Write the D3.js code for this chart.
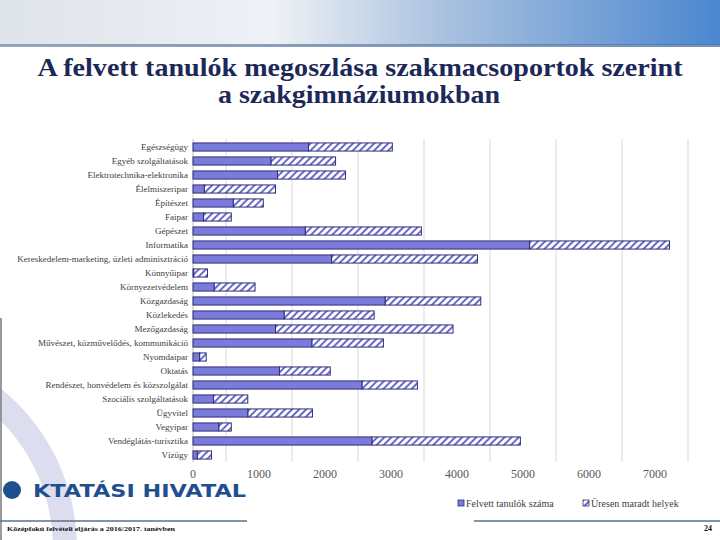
<!DOCTYPE html>
<html lang="hu">
<head>
<meta charset="utf-8">
<title>A felvett tanulók megoszlása szakmacsoportok szerint</title>
<script src="https://d3js.org/d3.v7.min.js"></script>
<style>
body {
	margin: 0;
	background-color: white;
}
svg {
	display: block;
}
.serif {
	font-family: "Liberation Serif", "Times New Roman", Times, serif;
}
</style>
</head>
<body>
<script>

var width = 720;
var height = 540;

var categories = ["Egészségügy", "Egyéb szolgáltatások", "Elektrotechnika-elektronika", "Élelmiszeripar",
	"Építészet", "Faipar", "Gépészet", "Informatika", "Kereskedelem-marketing, üzleti adminisztráció",
	"Könnyűipar", "Környezetvédelem", "Közgazdaság", "Közlekedés", "Mezőgazdaság",
	"Művészet, közművelődés, kommunikáció", "Nyomdaipar", "Oktatás",
	"Rendészet, honvédelem és közszolgálat", "Szociális szolgáltatások", "Ügyvitel", "Vegyipar",
	"Vendéglátás-turisztika", "Vízügy"];

// Felvett tanulók száma
var felvett = [1750, 1180, 1280, 170, 610, 160, 1700, 5100, 2100, 10, 320, 2910, 1380, 1250,
	1800, 100, 1310, 2560, 310, 830, 390, 2710, 65];
// Üresen maradt helyek
var ures = [1270, 980, 1030, 1080, 455, 420, 1760, 2120, 2210, 210, 620, 1450, 1365, 2690,
	1085, 100, 770, 840, 520, 980, 190, 2250, 215];

var tickValues = [0, 1000, 2000, 3000, 4000, 5000, 6000, 7000];
var gridValues = [500, 1500, 2500, 3500, 4500, 5500, 6500, 7500];

var seriesNames = ["Felvett tanulók száma", "Üresen maradt helyek"];

var titleLines = ["A felvett tanulók megoszlása szakmacsoportok szerint", "a szakgimnáziumokban"];
var footerText = "Középfokú felvételi eljárás a 2016/2017. tanévben";
var pageNumber = "24";

var barFill = "#7b7bdc";
var barStroke = "#2e2e78";

var svg = d3.select("body").append("svg").attr("width", width).attr("height", height);
var defs = svg.append("defs");

// header band
var hg = defs.append("linearGradient").attr("id", "headGrad");
hg.append("stop").attr("offset", "0").attr("stop-color", "#dfe4ea");
hg.append("stop").attr("offset", "0.38").attr("stop-color", "#eef1f5");
hg.append("stop").attr("offset", "0.62").attr("stop-color", "#a9c1df");
hg.append("stop").attr("offset", "1").attr("stop-color", "#4b87cf");

var lg = defs.append("linearGradient").attr("id", "lineGrad");
lg.append("stop").attr("offset", "0").attr("stop-color", "#7d8fa8");
lg.append("stop").attr("offset", "1").attr("stop-color", "#4f78aa");

svg.append("rect").attr("x", 0).attr("y", 0).attr("width", width).attr("height", 45)
	.attr("fill", "url(#headGrad)");
svg.append("rect").attr("x", 0).attr("y", 44).attr("width", width).attr("height", 3)
	.attr("fill", "url(#lineGrad)").attr("opacity", 0.8);

// hatch pattern
var pat = defs.append("pattern").attr("id", "hatch")
	.attr("patternUnits", "userSpaceOnUse").attr("width", 5).attr("height", 5)
	.attr("patternTransform", "rotate(45)");
pat.append("rect").attr("width", 5).attr("height", 5).attr("fill", "white");
pat.append("rect").attr("x", 0).attr("y", 0).attr("width", 2).attr("height", 5).attr("fill", "#6a6acb");

// decorative ring + left line
svg.append("circle").attr("cx", -128).attr("cy", 548).attr("r", 193)
	.attr("fill", "none").attr("stroke", "#cdd0e8").attr("stroke-width", 24).attr("opacity", 0.7);
svg.append("line").attr("x1", 1).attr("x2", 1).attr("y1", 318).attr("y2", 540)
	.attr("stroke", "#7a7a7a").attr("stroke-width", 1.5);

// title
svg.append("text").attr("class", "serif").attr("x", 360).attr("y", 76).attr("text-anchor", "middle")
	.attr("font-weight", "bold").attr("font-size", 26)
	.attr("fill", "#1c2858")
	.attr("textLength", 645).attr("lengthAdjust", "spacingAndGlyphs")
	.text(titleLines[0]);
svg.append("text").attr("class", "serif").attr("x", 359).attr("y", 103).attr("text-anchor", "middle")
	.attr("font-weight", "bold").attr("font-size", 26)
	.attr("fill", "#1c2858")
	.attr("textLength", 282).attr("lengthAdjust", "spacingAndGlyphs")
	.text(titleLines[1]);

// scales
var x = d3.scaleLinear().domain([0, 7500]).range([193, 688]);
var y = d3.scaleBand().domain(categories).range([140, 462]).paddingInner(0.42).paddingOuter(0.21);

// gridlines
svg.append("g").selectAll("line").data(gridValues).enter().append("line")
	.attr("x1", function(d) { return x(d); })
	.attr("x2", function(d) { return x(d); })
	.attr("y1", 139).attr("y2", 462)
	.attr("stroke", "#d9d9d9").attr("stroke-width", 1);
svg.append("line").attr("x1", x(0)).attr("x2", x(0)).attr("y1", 139).attr("y2", 462)
	.attr("stroke", "#bfbfbf").attr("stroke-width", 1);

// tick labels
svg.append("g").attr("class", "serif").selectAll("text").data(tickValues).enter().append("text")
	.attr("x", function(d) { return x(d); })
	.attr("y", 478)
	.attr("text-anchor", "middle")
	.attr("font-size", 12).attr("fill", "#595959")
	.text(function(d) { return d; });

// category labels
svg.append("g").attr("class", "serif").selectAll("text").data(categories).enter().append("text")
	.attr("x", 188)
	.attr("y", function(d) { return y(d) + y.bandwidth() / 2 + 3; })
	.attr("text-anchor", "end")
	.attr("font-size", 9).attr("fill", "#404040")
	.text(function(d) { return d; });

// bars
var rows = categories.map(function(c, i) { return { cat: c, a: felvett[i], b: ures[i] }; });

svg.append("g").selectAll("rect").data(rows).enter().append("rect")
	.attr("x", function(d) { return x(d.a); })
	.attr("y", function(d) { return y(d.cat); })
	.attr("width", function(d) { return x(d.a + d.b) - x(d.a); })
	.attr("height", y.bandwidth())
	.attr("fill", "url(#hatch)").attr("stroke", barStroke).attr("stroke-width", 1);

svg.append("g").selectAll("rect").data(rows).enter().append("rect")
	.attr("x", x(0))
	.attr("y", function(d) { return y(d.cat); })
	.attr("width", function(d) { return x(d.a) - x(0); })
	.attr("height", y.bandwidth())
	.attr("fill", barFill).attr("stroke", barStroke).attr("stroke-width", 1);

// legend
var legend = svg.append("g").attr("class", "serif").attr("font-size", 10).attr("fill", "#404040");
legend.append("rect").attr("x", 458).attr("y", 500).attr("width", 6).attr("height", 6)
	.attr("fill", barFill).attr("stroke", barStroke).attr("stroke-width", 0.8);
legend.append("text").attr("x", 466).attr("y", 507).text(seriesNames[0]);
legend.append("rect").attr("x", 583).attr("y", 500).attr("width", 6).attr("height", 6)
	.attr("fill", "url(#hatch)").attr("stroke", barStroke).attr("stroke-width", 0.8);
legend.append("text").attr("x", 591).attr("y", 507).text(seriesNames[1]);

// logo
svg.append("circle").attr("cx", 12).attr("cy", 490).attr("r", 9).attr("fill", "#1f4f8f");
svg.append("text").attr("x", 33).attr("y", 497)
	.attr("font-family", "'DejaVu Sans', sans-serif").attr("font-weight", "bold")
	.attr("font-size", 18).attr("fill", "#1f4f8f")
	.attr("textLength", 213).attr("lengthAdjust", "spacingAndGlyphs")
	.text("KTATÁSI HIVATAL");

// footer
svg.append("line").attr("x1", 0).attr("x2", 247).attr("y1", 521).attr("y2", 521)
	.attr("stroke", "#5d6f89").attr("stroke-width", 1.5);
svg.append("line").attr("x1", 474).attr("x2", 720).attr("y1", 521).attr("y2", 521)
	.attr("stroke", "#5d6f89").attr("stroke-width", 1.5);
svg.append("text").attr("class", "serif").attr("x", 7).attr("y", 531)
	.attr("font-weight", "bold").attr("font-size", 7).attr("fill", "#111")
	.attr("textLength", 168).attr("lengthAdjust", "spacingAndGlyphs")
	.text(footerText);
svg.append("text").attr("class", "serif").attr("x", 712).attr("y", 531).attr("text-anchor", "end")
	.attr("font-weight", "bold").attr("font-size", 8).attr("fill", "#111")
	.text(pageNumber);

</script>
</body>
</html>
